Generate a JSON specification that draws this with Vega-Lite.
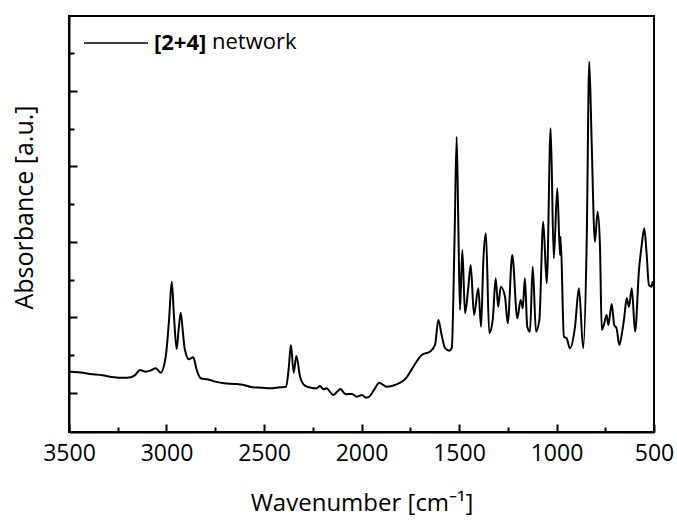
{
  "$schema": "https://vega.github.io/schema/vega-lite/v6.json",
  "width": 585,
  "height": 416,
  "autosize": "none",
  "padding": {"left": 69, "top": 16, "right": 23, "bottom": 88},
  "background": "white",
  "config": {
    "view": {"stroke": "black", "strokeWidth": 2},
    "font": "Open Sans"
  },
  "datasets": {
    "spectrum": [
      {"wavenumber": 3500, "absorbance": 12.78},
      {"wavenumber": 3491, "absorbance": 12.82},
      {"wavenumber": 3440, "absorbance": 12.7},
      {"wavenumber": 3392, "absorbance": 12.52},
      {"wavenumber": 3330, "absorbance": 12.35},
      {"wavenumber": 3269, "absorbance": 12.08},
      {"wavenumber": 3220, "absorbance": 12.0},
      {"wavenumber": 3184, "absorbance": 12.08},
      {"wavenumber": 3160, "absorbance": 12.4},
      {"wavenumber": 3136, "absorbance": 13.05},
      {"wavenumber": 3107, "absorbance": 12.82},
      {"wavenumber": 3081, "absorbance": 12.98},
      {"wavenumber": 3055, "absorbance": 13.27},
      {"wavenumber": 3030, "absorbance": 12.69},
      {"wavenumber": 3004, "absorbance": 14.81},
      {"wavenumber": 2987, "absorbance": 19.67},
      {"wavenumber": 2973, "absorbance": 24.74},
      {"wavenumber": 2962, "absorbance": 20.33},
      {"wavenumber": 2948, "absorbance": 15.83},
      {"wavenumber": 2938, "absorbance": 18.34},
      {"wavenumber": 2927, "absorbance": 20.64},
      {"wavenumber": 2917, "absorbance": 18.34},
      {"wavenumber": 2907, "absorbance": 15.92},
      {"wavenumber": 2885, "absorbance": 14.46},
      {"wavenumber": 2863, "absorbance": 14.73},
      {"wavenumber": 2845, "absorbance": 13.05},
      {"wavenumber": 2825, "absorbance": 11.95},
      {"wavenumber": 2791, "absorbance": 11.81},
      {"wavenumber": 2750, "absorbance": 11.5},
      {"wavenumber": 2705, "absorbance": 11.28},
      {"wavenumber": 2650, "absorbance": 11.2},
      {"wavenumber": 2603, "absorbance": 11.06},
      {"wavenumber": 2560, "absorbance": 10.75},
      {"wavenumber": 2510, "absorbance": 10.7},
      {"wavenumber": 2469, "absorbance": 10.62},
      {"wavenumber": 2420, "absorbance": 10.75},
      {"wavenumber": 2387, "absorbance": 10.83},
      {"wavenumber": 2374, "absorbance": 13.05},
      {"wavenumber": 2362, "absorbance": 16.36},
      {"wavenumber": 2348, "absorbance": 12.69},
      {"wavenumber": 2334, "absorbance": 14.9},
      {"wavenumber": 2315, "absorbance": 12.16},
      {"wavenumber": 2290, "absorbance": 10.97},
      {"wavenumber": 2260, "absorbance": 10.7},
      {"wavenumber": 2230, "absorbance": 10.62},
      {"wavenumber": 2213, "absorbance": 10.93},
      {"wavenumber": 2195, "absorbance": 10.5},
      {"wavenumber": 2179, "absorbance": 10.62},
      {"wavenumber": 2160, "absorbance": 10.1},
      {"wavenumber": 2145, "absorbance": 9.74},
      {"wavenumber": 2107, "absorbance": 10.53},
      {"wavenumber": 2090, "absorbance": 10.0},
      {"wavenumber": 2076, "absorbance": 9.83},
      {"wavenumber": 2049, "absorbance": 9.87},
      {"wavenumber": 2025, "absorbance": 9.51},
      {"wavenumber": 1997, "absorbance": 9.74},
      {"wavenumber": 1980, "absorbance": 9.4},
      {"wavenumber": 1965, "absorbance": 9.43},
      {"wavenumber": 1936, "absorbance": 10.4},
      {"wavenumber": 1909, "absorbance": 11.36},
      {"wavenumber": 1871, "absorbance": 10.83},
      {"wavenumber": 1828, "absorbance": 11.06},
      {"wavenumber": 1768, "absorbance": 12.08},
      {"wavenumber": 1734, "absorbance": 13.48},
      {"wavenumber": 1691, "absorbance": 15.03},
      {"wavenumber": 1649, "absorbance": 15.47},
      {"wavenumber": 1623, "absorbance": 16.36},
      {"wavenumber": 1606, "absorbance": 19.67},
      {"wavenumber": 1589, "absorbance": 17.68},
      {"wavenumber": 1572, "absorbance": 15.96},
      {"wavenumber": 1550, "absorbance": 15.6},
      {"wavenumber": 1537, "absorbance": 15.96},
      {"wavenumber": 1523, "absorbance": 30.26},
      {"wavenumber": 1512, "absorbance": 43.95},
      {"wavenumber": 1503, "absorbance": 31.59},
      {"wavenumber": 1495, "absorbance": 20.99},
      {"wavenumber": 1483, "absorbance": 28.94},
      {"wavenumber": 1469, "absorbance": 20.56},
      {"wavenumber": 1452, "absorbance": 24.08},
      {"wavenumber": 1440, "absorbance": 26.95},
      {"wavenumber": 1423, "absorbance": 20.33},
      {"wavenumber": 1401, "absorbance": 23.87},
      {"wavenumber": 1387, "absorbance": 18.78},
      {"wavenumber": 1375, "absorbance": 27.62},
      {"wavenumber": 1362, "absorbance": 31.15},
      {"wavenumber": 1345, "absorbance": 17.91},
      {"wavenumber": 1327, "absorbance": 19.67},
      {"wavenumber": 1312, "absorbance": 25.19},
      {"wavenumber": 1299, "absorbance": 21.43},
      {"wavenumber": 1286, "absorbance": 24.08},
      {"wavenumber": 1264, "absorbance": 22.75},
      {"wavenumber": 1250, "absorbance": 19.23},
      {"wavenumber": 1227, "absorbance": 28.28},
      {"wavenumber": 1201, "absorbance": 19.89},
      {"wavenumber": 1184, "absorbance": 22.32},
      {"wavenumber": 1173, "absorbance": 21.22},
      {"wavenumber": 1162, "absorbance": 25.19},
      {"wavenumber": 1150, "absorbance": 18.78},
      {"wavenumber": 1136, "absorbance": 18.12},
      {"wavenumber": 1122, "absorbance": 26.73},
      {"wavenumber": 1105, "absorbance": 18.12},
      {"wavenumber": 1088, "absorbance": 19.67},
      {"wavenumber": 1068, "absorbance": 32.69},
      {"wavenumber": 1050, "absorbance": 24.53},
      {"wavenumber": 1030, "absorbance": 45.06},
      {"wavenumber": 1014, "absorbance": 27.84},
      {"wavenumber": 996, "absorbance": 37.11},
      {"wavenumber": 982, "absorbance": 28.28},
      {"wavenumber": 979, "absorbance": 30.7},
      {"wavenumber": 962, "absorbance": 17.46},
      {"wavenumber": 948, "absorbance": 17.25},
      {"wavenumber": 931, "absorbance": 15.92},
      {"wavenumber": 905, "absorbance": 18.78},
      {"wavenumber": 885, "absorbance": 23.87},
      {"wavenumber": 863, "absorbance": 15.92},
      {"wavenumber": 845, "absorbance": 30.26},
      {"wavenumber": 832, "absorbance": 53.88},
      {"wavenumber": 820, "absorbance": 43.51},
      {"wavenumber": 803, "absorbance": 30.04},
      {"wavenumber": 789, "absorbance": 34.01},
      {"wavenumber": 777, "absorbance": 29.38},
      {"wavenumber": 768, "absorbance": 18.34},
      {"wavenumber": 755, "absorbance": 19.23},
      {"wavenumber": 743, "absorbance": 20.33},
      {"wavenumber": 734, "absorbance": 19.01},
      {"wavenumber": 717, "absorbance": 21.79},
      {"wavenumber": 704, "absorbance": 19.01},
      {"wavenumber": 692, "absorbance": 18.57},
      {"wavenumber": 678, "absorbance": 16.36},
      {"wavenumber": 663, "absorbance": 18.12},
      {"wavenumber": 653, "absorbance": 19.89},
      {"wavenumber": 640, "absorbance": 22.54},
      {"wavenumber": 628, "absorbance": 21.43},
      {"wavenumber": 614, "absorbance": 23.87},
      {"wavenumber": 597, "absorbance": 18.12},
      {"wavenumber": 577, "absorbance": 26.29},
      {"wavenumber": 563, "absorbance": 29.6},
      {"wavenumber": 550, "absorbance": 31.81},
      {"wavenumber": 538, "absorbance": 28.5},
      {"wavenumber": 526, "absorbance": 24.3},
      {"wavenumber": 512, "absorbance": 24.08},
      {"wavenumber": 507, "absorbance": 24.74},
      {"wavenumber": 500, "absorbance": 24.17}
    ]
  },
  "data": {"name": "spectrum"},
  "mark": {"type": "line", "strokeWidth": 2, "interpolate": "monotone", "strokeJoin": "round"},
  "encoding": {
    "x": {
      "field": "wavenumber",
      "type": "quantitative",
      "scale": {"domain": [500, 3500], "reverse": true, "nice": false, "zero": false},
      "axis": {
        "values": [3500, 3250, 3000, 2750, 2500, 2250, 2000, 1750, 1500, 1250, 1000, 750, 500],
        "labelExpr": "datum.value % 500 === 0 ? datum.value : ''",
        "tickSize": {"condition": {"test": "datum.value % 500 === 0", "value": -8}, "value": -5},
        "tickWidth": 2,
        "tickColor": "black",
        "domainColor": "black",
        "domainWidth": 2,
        "grid": false,
        "labelFont": "Open Sans",
        "labelFontSize": 23,
        "labelColor": "black",
        "labelPadding": 18,
        "labelFlush": false,
        "labelOverlap": false,
        "title": "Wavenumber [cm⁻¹]",
        "titleFont": "Open Sans",
        "titleFontSize": 24,
        "titleFontWeight": "normal",
        "titleColor": "black",
        "titlePadding": 23
      }
    },
    "y": {
      "field": "absorbance",
      "type": "quantitative",
      "scale": {"domain": [4.83, 59.93], "nice": false, "zero": false},
      "axis": {
        "values": [10, 15, 20, 25, 30, 35, 40, 45, 50, 55],
        "labels": false,
        "tickSize": {"condition": {"test": "datum.value % 10 === 0", "value": -8}, "value": -5},
        "tickWidth": 2,
        "tickColor": "black",
        "domainColor": "black",
        "domainWidth": 2,
        "grid": false,
        "title": "Absorbance [a.u.]",
        "titleFont": "Open Sans",
        "titleFontSize": 25,
        "titleFontWeight": "normal",
        "titleColor": "black",
        "titlePadding": 31,
        "titleY": 191
      }
    },
    "color": {
      "datum": "[2+4]",
      "type": "nominal",
      "scale": {"range": ["black"]},
      "legend": {
        "orient": "none",
        "legendX": 14,
        "legendY": -6,
        "padding": 0,
        "symbolType": "stroke",
        "symbolSize": 4096,
        "symbolStrokeWidth": 1.5,
        "symbolStrokeColor": "black",
        "labelFont": "Open Sans",
        "labelFontSize": 22,
        "labelFontWeight": "bold",
        "labelColor": "black",
        "labelOffset": 5,
        "title": "network",
        "titleOrient": "right",
        "titleAnchor": "middle",
        "titleBaseline": "top",
        "titleFont": "Open Sans",
        "titleFontSize": 22,
        "titleFontWeight": "normal",
        "titleColor": "black",
        "titlePadding": 6
      }
    }
  }
}
